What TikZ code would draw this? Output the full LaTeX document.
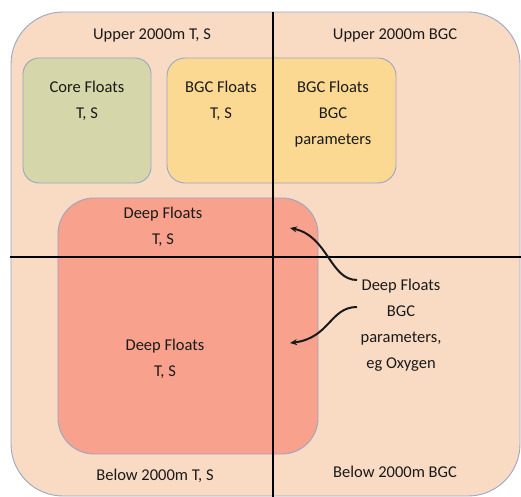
\documentclass[tikz,border=0pt]{standalone}
\usepackage{fontspec}
\setmainfont{Carlito}
\usetikzlibrary{arrows.meta}

\definecolor{peach}{HTML}{F9DBC4}
\definecolor{coregreen}{HTML}{D5D6A9}
\definecolor{bgcyellow}{HTML}{FCD993}
\definecolor{deepred}{HTML}{F8A28E}
\definecolor{rim}{HTML}{9AA6C4}
\definecolor{ink}{HTML}{1A1A1A}

\tikzset{
  floatbox/.style={draw=rim, line width=0.9bp, inner sep=0pt},
  axis/.style={line width=2bp, draw=black},
  pointer/.style={line width=2bp, draw=ink, -{Stealth[length=7bp, width=6bp]}}
}

\begin{document}
\begin{tikzpicture}[x=1bp, y=-1bp, align=center, text=ink,
                    font=\fontsize{16.5bp}{26bp}\selectfont]
  \useasboundingbox (0,0) rectangle (521,497);
  % background and float groups
  \path node (sea)  at (265.5,254) [floatbox, fill=peach, rounded corners=52bp,
                                   minimum width=509bp, minimum height=484bp] {}
        node (core) at (87,120.5)  [floatbox, fill=coregreen, rounded corners=16bp,
                                   minimum width=128bp, minimum height=125bp] {}
        node (bgc)  at (281.5,120.5) [floatbox, fill=bgcyellow, rounded corners=18bp,
                                   minimum width=229bp, minimum height=125bp] {}
        node (deep) at (188,326)   [floatbox, fill=deepred, rounded corners=36bp,
                                   minimum width=260bp, minimum height=256bp] {};
  % quadrant axes
  \coordinate (top)    at (273,12);
  \coordinate (bottom) at (273,497);
  \coordinate (west)   at (10,257);
  \coordinate (east)   at (521,257);
  \draw[axis] (top) -- (bottom)
              (west) -- (east);
  % labels
  \path node (upTS)   at (152,35)  {Upper 2000m T, S}
        node (upBGC)  at (395,35)  {Upper 2000m BGC}
        node (coreTS) at (87,101)  {Core Floats\\T, S}
        node (bgcTS)  at (221,101) {BGC Floats\\T, S}
        node (bgcBGC) at (333,114) {BGC Floats\\BGC\\parameters}
        node (deepUp) at (163,227) {Deep Floats\\T, S}
        node (deepLo) at (165,359) {Deep Floats\\T, S}
        node (deepBGC) at (401,325) {Deep Floats\\BGC\\parameters,\\eg Oxygen}
        node (loTS)   at (155,476) {Below 2000m T, S}
        node (loBGC)  at (395,472) {Below 2000m BGC};
  % pointers from the deep BGC label
  \coordinate (srcA) at (357,280);
  \coordinate (srcB) at (357,307);
  \coordinate (dstA) at (290,228);
  \coordinate (dstB) at (290,343);
  \draw[pointer] (srcA) .. controls (330,280) and (328,236) .. (dstA);
  \draw[pointer] (srcB) .. controls (330,307) and (330,338) .. (dstB);
\end{tikzpicture}
\end{document}
